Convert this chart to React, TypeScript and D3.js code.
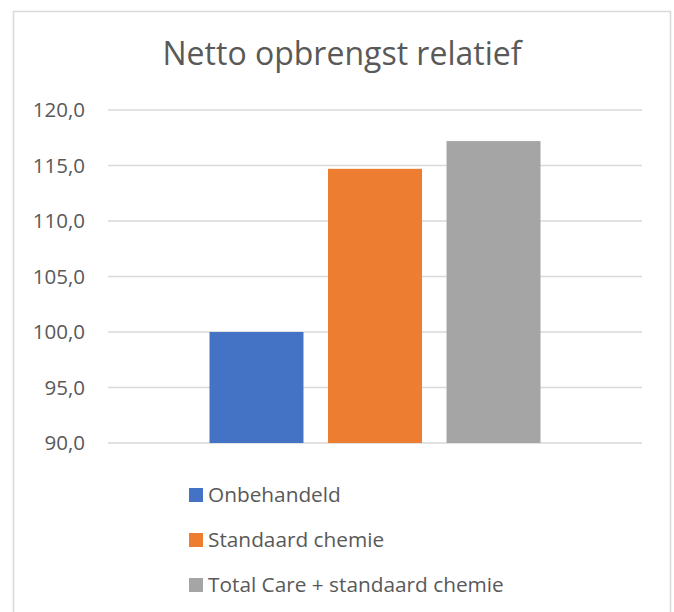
import React from "react";
import * as d3 from "d3";

const title = "Netto opbrengst relatief";
const seriesNames = ["Onbehandeld", "Standaard chemie", "Total Care + standaard chemie"];
const seriesValues = [100.0, 114.7, 117.2];
const seriesColors = ["#4472C4", "#ED7D31", "#A5A5A5"];
const yTicks = [90, 95, 100, 105, 110, 115, 120];

const W = 674;
const H = 612;
const FONT = "'Open Sans', sans-serif";

export default function App() {
  const plotLeft = 108;
  const plotRight = 642;
  const plotTop = 110;
  const plotBottom = 443;

  const y = d3.scaleLinear().domain([90, 120]).range([plotBottom, plotTop]);
  const outer = d3
    .scaleBand<string>()
    .domain(["cat"])
    .range([plotLeft, plotRight])
    .paddingInner(0)
    .paddingOuter(0.3066);
  const inner = d3
    .scaleBand<string>()
    .domain(seriesNames)
    .range([outer("cat")!, outer("cat")! + outer.bandwidth()])
    .paddingInner(0.207)
    .paddingOuter(0);

  const fmt = (v: number) => v.toFixed(1).replace(".", ",");

  return (
    <svg
      width={W}
      height={H}
      style={{ position: "absolute", left: 0, top: 0, background: "#fff" }}
      fontFamily={FONT}
    >
      <rect x={0} y={0} width={W} height={H} fill="#fff" />
      <rect x={13.5} y={11.5} width={657} height={620} fill="#fff" stroke="#D9D9D9" strokeWidth={1.5} />
      <text x={342} y={65} textAnchor="middle" fontSize={32} fill="#595959">
        {title}
      </text>
      {yTicks.map((t) => (
        <g key={t}>
          <line x1={plotLeft} x2={plotRight} y1={y(t)} y2={y(t)} stroke="#D9D9D9" strokeWidth={1.5} />
          <text x={85} y={y(t)} dy="0.36em" textAnchor="end" fontSize={20.5} fill="#595959">
            {fmt(t)}
          </text>
        </g>
      ))}
      {seriesNames.map((s, i) => (
        <rect
          key={s}
          x={inner(s)}
          y={y(seriesValues[i])}
          width={inner.bandwidth()}
          height={y(90) - y(seriesValues[i])}
          fill={seriesColors[i]}
        />
      ))}
      {seriesNames.map((s, i) => (
        <g key={s} transform={`translate(189, ${502 + i * 45})`}>
          <rect x={0} y={-14} width={14} height={14} fill={seriesColors[i]} />
          <text x={19} y={0} fontSize={20.8} fill="#595959">
            {s}
          </text>
        </g>
      ))}
    </svg>
  );
}
